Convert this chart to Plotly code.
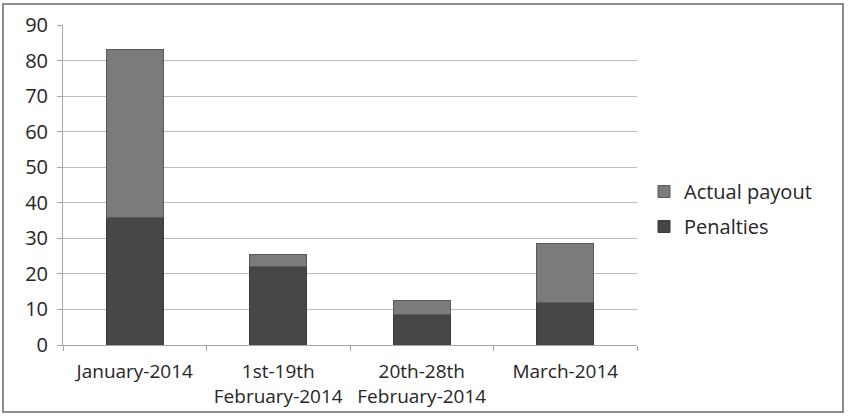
import plotly.graph_objects as go

categories = ["January-2014", "1st-19th<br>February-2014", "20th-28th<br>February-2014", "March-2014"]
penalties = [36, 22, 8.5, 12]
actual_payout = [47, 3.5, 4, 16.5]
y_ticks = [0, 10, 20, 30, 40, 50, 60, 70, 80, 90]

W, H = 848, 416
FONT = "Open Sans, Liberation Sans, sans-serif"

fig = go.Figure()
fig.add_trace(go.Bar(x=categories, y=penalties, name="Penalties", legendgroup="p",
                     legendrank=2,
                     marker=dict(color="#474747", line=dict(color="#3a3a3a", width=1))))
fig.add_trace(go.Bar(x=categories, y=actual_payout, name="Actual payout", legendgroup="a",
                     legendrank=1,
                     marker=dict(color="#7b7b7b", line=dict(color="#5a5a5a", width=1))))

fig.update_layout(
    width=W, height=H,
    barmode="stack", bargap=0.6,
    margin=dict(l=0, r=0, t=0, b=0),
    paper_bgcolor="white", plot_bgcolor="white",
    font=dict(family=FONT, size=19, color="#262626"),
    showlegend=True,
    legend=dict(x=644 / W, y=1 - 172 / H, xanchor="left", yanchor="top",
                traceorder="grouped", font=dict(size=20),
                itemwidth=30, tracegroupgap=6),
    xaxis=dict(domain=[63 / W, 637 / W], showline=True, linecolor="#a6a6a6",
               ticks="outside", tickson="boundaries", ticklen=5, tickcolor="#a6a6a6",
               tickfont=dict(size=19), automargin=False, ticklabelstandoff=9),
    yaxis=dict(domain=[71 / H, 391 / H], range=[0, 90], tickvals=y_ticks,
               showgrid=True, gridcolor="#bdbdbd", gridwidth=1,
               showline=True, linecolor="#a6a6a6", ticks="outside", ticklen=5,
               tickcolor="#a6a6a6", tickfont=dict(size=20), zeroline=False,
               automargin=False, ticklabelstandoff=5),
    shapes=[dict(type="rect", xref="paper", yref="paper",
                 x0=3 / W, x1=843 / W, y0=1 - 412 / H, y1=1 - 4 / H,
                 line=dict(color="#8c8c8c", width=2))],
)

fig.write_html("out.html")
